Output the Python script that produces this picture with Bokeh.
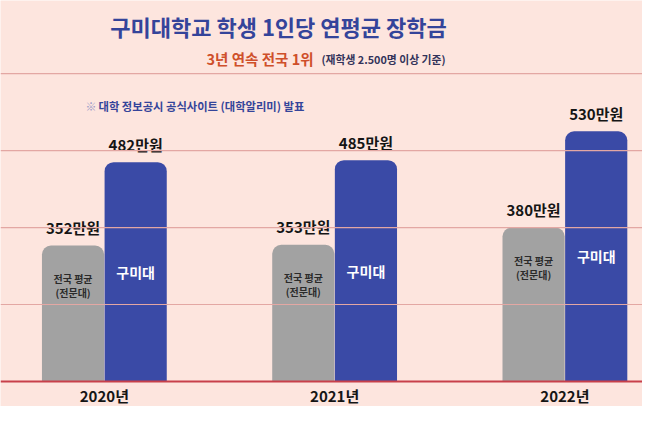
from bokeh.plotting import figure
from bokeh.models import ColumnDataSource, Range1d, Span, Label
from bokeh.transform import dodge
from bokeh.core.properties import value
from bokeh.embed import file_html
from bokeh.resources import INLINE

# ---- data ----
years = [2020, 2021, 2022]
year_labels = ["2020년", "2021년", "2022년"]
national_avg = [352, 353, 380]      # 전국 평균 (전문대), 만원
gumi = [482, 485, 530]              # 구미대, 만원
national_labels = ["352만원", "353만원", "380만원"]
gumi_labels = ["482만원", "485만원", "530만원"]
grid_values = [260, 380, 500, 620]
BASE = 140

FONT = "Noto Sans CJK KR"
BG = "#fde5de"
GRAY = "#a2a2a2"
BLUE = "#3a4aa6"
TITLE_BLUE = "#34449a"

W, H = 642, 406
p = figure(width=W, height=H, output_backend="svg", toolbar_location=None,
           x_range=Range1d(2019.549, 2022.337), y_range=Range1d(101, 734),
           min_border=0, outline_line_color=None)
p.background_fill_color = BG
p.border_fill_color = BG
p.axis.visible = False
p.grid.visible = False

for gv in grid_values:
    p.add_layout(Span(location=gv, dimension="width", line_color="#e3a7a3", line_width=1.2))
p.add_layout(Span(location=BASE, dimension="width", line_color="#c8404a", line_width=2))

src = ColumnDataSource(dict(
    year=years, ylab=year_labels, nat=national_avg, gumi=gumi,
    natlab=national_labels, gumilab=gumi_labels,
    base=[BASE] * 3,
    gmid=[(g + BASE) / 2 for g in gumi],
    l1=["전국 평균"] * 3, l2=["(전문대)"] * 3, gname=["구미대"] * 3,
))

BW = 0.27
OFF = 0.136
p.vbar(x=dodge("year", -OFF, range=p.x_range), top="nat", bottom="base", width=BW,
       fill_color=GRAY, line_color=None, border_radius=(9, 9, 0, 0), source=src)
p.vbar(x=dodge("year", OFF, range=p.x_range), top="gumi", bottom="base", width=BW,
       fill_color=BLUE, line_color=None, border_radius=(9, 9, 0, 0), source=src)

bold = dict(text_font=value(FONT), text_font_style="bold", text_align="center",
            text_baseline="middle")
# value labels
p.text(x=dodge("year", -OFF, range=p.x_range), y="nat", text="natlab", y_offset=-18,
       text_font_size="15px", text_color="#151515", source=src, **bold)
p.text(x=dodge("year", OFF, range=p.x_range), y="gumi", text="gumilab", y_offset=-18,
       text_font_size="15px", text_color="#151515", source=src, **bold)
# inside labels
p.text(x=dodge("year", -OFF, range=p.x_range), y="nat", text="l1", y_offset=33,
       text_font_size="10px", text_color="#2a2a2a", source=src, **bold)
p.text(x=dodge("year", -OFF, range=p.x_range), y="nat", text="l2", y_offset=47,
       text_font_size="10px", text_color="#2a2a2a", source=src, **bold)
p.text(x=dodge("year", OFF, range=p.x_range), y="gmid", text="gname",
       text_font_size="14px", text_color="white", source=src, **bold)
# year labels
p.text(x="year", y="base", text="ylab", y_offset=14,
       text_font_size="15px", text_color="#151515", source=src, **bold)

# titles
p.add_layout(Label(x=278, y=381, x_units="screen", y_units="screen",
                   text="구미대학교 학생 1인당 연평균 장학금", text_font=FONT,
                   text_font_style="bold", text_font_size="22px", text_color=TITLE_BLUE,
                   text_align="center", text_baseline="middle"))
p.add_layout(Label(x=206, y=348, x_units="screen", y_units="screen",
                   text="3년 연속 전국 1위", text_font=FONT,
                   text_font_style="bold", text_font_size="14.5px", text_color="#cf4f2a",
                   text_align="left", text_baseline="middle"))
p.add_layout(Label(x=321, y=348, x_units="screen", y_units="screen",
                   text="(재학생 2.500명 이상 기준)", text_font=FONT,
                   text_font_style="bold", text_font_size="10.8px", text_color="#33335a",
                   text_align="left", text_baseline="middle"))
p.add_layout(Label(x=85, y=301, x_units="screen", y_units="screen",
                   text="※", text_font=FONT, text_font_size="11px", text_color="#9a9ac8",
                   text_align="left", text_baseline="middle"))
p.add_layout(Label(x=98, y=301, x_units="screen", y_units="screen",
                   text="대학 정보공시 공식사이트 (대학알리미) 발표", text_font=FONT,
                   text_font_style="bold", text_font_size="11.3px", text_color=TITLE_BLUE,
                   text_align="left", text_baseline="middle"))

open("out.html", "w").write(file_html(p, INLINE))
